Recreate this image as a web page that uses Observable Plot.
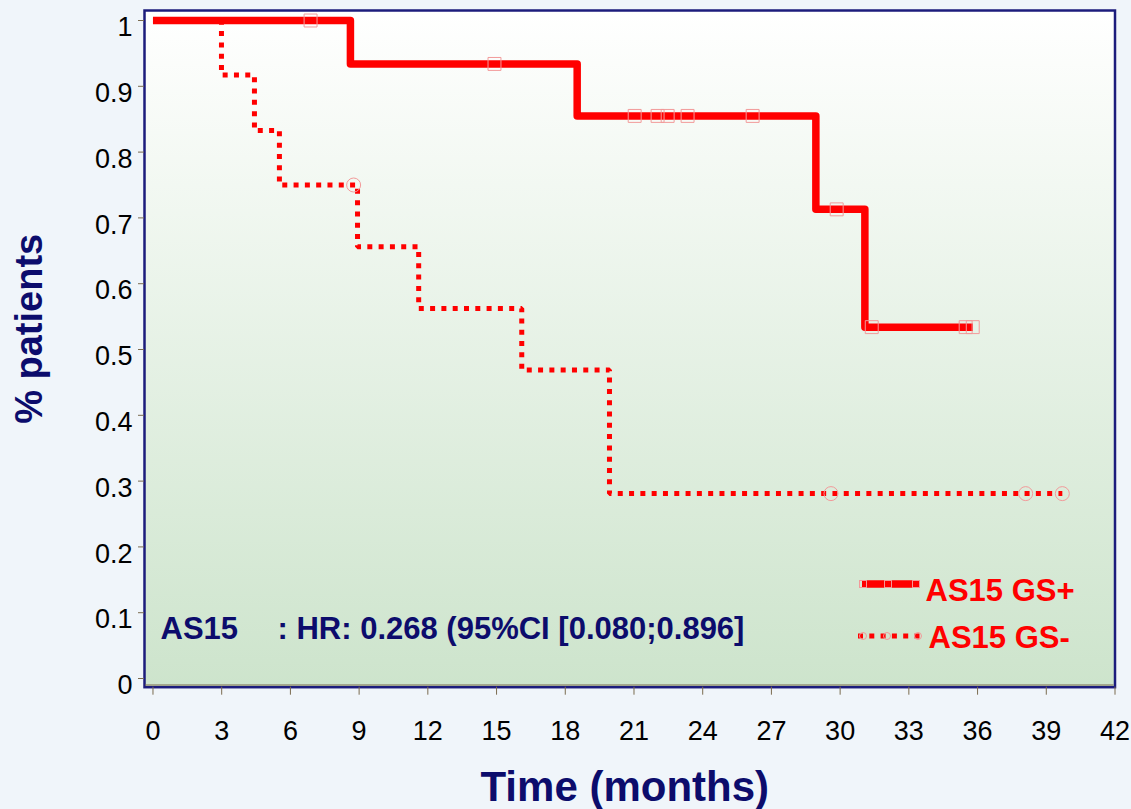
<!DOCTYPE html>
<html><head><meta charset="utf-8">
<script src="https://cdn.jsdelivr.net/npm/d3@7"></script>
<script src="https://cdn.jsdelivr.net/npm/@observablehq/plot@0.6"></script>
<style>
html,body{margin:0;padding:0;background:#f0f5fa;}
#chart{position:relative;width:1131px;height:809px;}
</style></head><body><div id="chart"></div>
<script>
// ---- data ----
const xTicks = [0, 3, 6, 9, 12, 15, 18, 21, 24, 27, 30, 33, 36, 39, 42];
const yTicks = [0, 0.1, 0.2, 0.3, 0.4, 0.5, 0.6, 0.7, 0.8, 0.9, 1];
const yTickLabels = ["0", "0.1", "0.2", "0.3", "0.4", "0.5", "0.6", "0.7", "0.8", "0.9", "1"];

const seriesNames = ["AS15 GS+", "AS15 GS-"];
// AS15 GS+ (solid) : step times (months) and survival after each step; last point = end of follow-up
const gsPlusTimes = [0, 8.62, 18.52, 28.94, 31.08, 35.8];
const gsPlusSurv  = [1, 0.934, 0.855, 0.713, 0.534, 0.534];
const gsPlusCensor = [6.88, 14.91, 21.03, 22.03, 22.47, 23.34, 26.18, 29.85, 31.38, 35.48, 35.79];
// AS15 GS- (dotted)
const gsMinusTimes = [0, 2.99, 4.43, 5.52, 8.93, 11.6, 16.1, 19.93, 39.7];
const gsMinusSurv  = [1, 0.917, 0.833, 0.75, 0.656, 0.5625, 0.469, 0.281, 0.281];
const gsMinusCensor = [8.76, 29.6, 38.1, 39.7];

const annotationLabel = "AS15";
const annotationText = ": HR: 0.268 (95%CI [0.080;0.896]";
const xTitle = "Time (months)";
const yTitle = "% patients";

// ---- build tables ----
const toSteps = (T, S) => T.map((t, i) => ({t, s: S[i]}));
const survAt = (T, S, t) => { let v = S[0]; for (let i = 0; i < T.length; i++) if (T[i] <= t) v = S[i]; return v; };
const plusData = toSteps(gsPlusTimes, gsPlusSurv);
const minusData = toSteps(gsMinusTimes, gsMinusSurv);
const plusCens = gsPlusCensor.map(t => ({t, s: survAt(gsPlusTimes, gsPlusSurv, t)}));
const minusCens = gsMinusCensor.map(t => ({t, s: survAt(gsMinusTimes, gsMinusSurv, t)}));

const RED = "#ff0000", CENS = "#f29a9a", NAVY = "#0c0c6c", TICK = "#7a6b4f";
const FONT = "'Liberation Sans', Arial, sans-serif";

const plot = Plot.plot({
  width: 1131, height: 809,
  marginLeft: 144, marginRight: 16.5, marginTop: 10, marginBottom: 122.3,
  style: {background: "#f0f5fa", fontFamily: FONT, overflow: "visible"},
  x: {domain: [-0.37, 42], label: null},
  y: {domain: [-0.0132, 1.0152], label: null},
  marks: [
    Plot.frame({fill: "url(#bgGrad)", stroke: "none"}),
    Plot.line(minusData, {x: "t", y: "s", curve: "step-after", stroke: RED, strokeWidth: 5,
      strokeDasharray: "5,6.3", strokeLinecap: "butt", strokeLinejoin: "miter"}),
    Plot.line(plusData, {x: "t", y: "s", curve: "step-after", stroke: RED, strokeWidth: 7.5,
      strokeLinecap: "butt", strokeLinejoin: "round"}),
    Plot.dot(plusCens, {x: "t", y: "s", symbol: "square", r: 7.3, stroke: CENS, strokeWidth: 1, fill: "none"}),
    Plot.dot(minusCens, {x: "t", y: "s", symbol: "circle", r: 7, stroke: CENS, strokeWidth: 1, fill: "none"}),
    Plot.frame({stroke: "#1c1c7c", strokeWidth: 2.5}),
    Plot.axisX({ticks: xTicks, tickSize: 8, stroke: TICK, fill: "none", label: null}),
    Plot.axisX({ticks: xTicks, tickSize: 8, tickPadding: 26, stroke: "none", fill: "#000",
      fontSize: 27, label: null, tickFormat: d => String(d)}),
    Plot.axisY({ticks: yTicks, tickSize: 6, stroke: TICK, fill: "none", label: null}),
    Plot.axisY({ticks: yTicks, tickSize: 6, tickPadding: 6, dy: 7, stroke: "none", fill: "#000",
      fontSize: 27, label: null, tickFormat: d => yTickLabels[yTicks.indexOf(d)]}),
    Plot.text([yTitle], {text: d => d, frameAnchor: "left", rotate: -90, dx: -115, dy: -20,
      fontSize: 38, fontWeight: "bold", fill: NAVY, textAnchor: "middle", lineAnchor: "middle"}),
    Plot.text([xTitle], {text: d => d, frameAnchor: "bottom", dx: -5, dy: 100,
      fontSize: 42, fontWeight: "bold", fill: NAVY, textAnchor: "middle", lineAnchor: "middle"}),
    Plot.text([annotationLabel], {text: d => d, frameAnchor: "bottom-left", textAnchor: "start",
      lineAnchor: "bottom", dx: 16, dy: -48.7, fontSize: 31, fontWeight: "bold", fill: NAVY}),
    Plot.text([annotationText], {text: d => d, frameAnchor: "bottom-left", textAnchor: "start",
      lineAnchor: "bottom", dx: 133, dy: -48.7, fontSize: 31, fontWeight: "bold", fill: NAVY}),
    Plot.text([seriesNames[0]], {text: d => d, frameAnchor: "bottom-right", textAnchor: "start",
      lineAnchor: "bottom", dx: -189.5, dy: -86.7, fontSize: 31, fontWeight: "bold", fill: RED}),
    Plot.text([seriesNames[1]], {text: d => d, frameAnchor: "bottom-right", textAnchor: "start",
      lineAnchor: "bottom", dx: -186.5, dy: -39.7, fontSize: 31, fontWeight: "bold", fill: RED})
  ]
});

const svg = d3.select(plot);
const grad = svg.insert("defs", ":first-child").append("linearGradient")
  .attr("id", "bgGrad").attr("x1", 0).attr("y1", 0).attr("x2", 0).attr("y2", 1);
grad.append("stop").attr("offset", "0%").attr("stop-color", "#ffffff");
grad.append("stop").attr("offset", "100%").attr("stop-color", "#cde4cc");

// thin brownish axis line just inside the bottom of the frame
svg.append("line").attr("x1", 145).attr("x2", 1113.5).attr("y1", 685).attr("y2", 685)
  .attr("stroke", TICK).attr("stroke-width", 1.2);

// legend swatches
const lg = svg.append("g");
lg.append("line").attr("x1", 862).attr("x2", 920).attr("y1", 584).attr("y2", 584)
  .attr("stroke", RED).attr("stroke-width", 7.5);
[863, 888, 916].forEach(x => lg.append("rect").attr("x", x - 3.5).attr("y", 580.5).attr("width", 7).attr("height", 7)
  .attr("fill", "none").attr("stroke", CENS).attr("stroke-width", 1));
lg.append("line").attr("x1", 858).attr("x2", 920).attr("y1", 636).attr("y2", 636)
  .attr("stroke", RED).attr("stroke-width", 5).attr("stroke-dasharray", "5,6.3");
[863, 887, 918].forEach(x => lg.append("circle").attr("cx", x).attr("cy", 636).attr("r", 3.5)
  .attr("fill", "none").attr("stroke", CENS).attr("stroke-width", 1));

document.getElementById("chart").appendChild(plot);
</script></body></html>
